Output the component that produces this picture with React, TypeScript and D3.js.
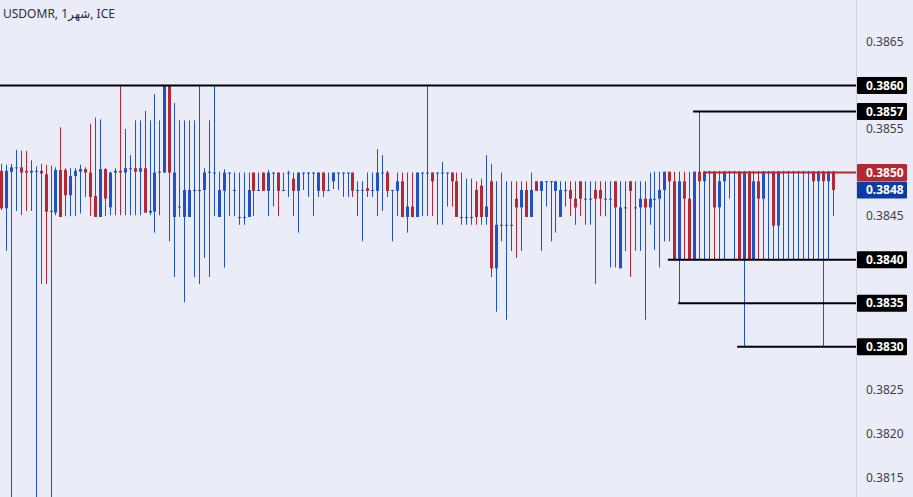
import React from "react";
import * as d3 from "d3";

const highs = [
  0.38510,0.38509,0.38510,0.38526,0.38525,0.38525,0.38514,0.38507,0.38510,0.38509,
  0.38508,0.38506,0.38552,0.38505,0.38505,0.38505,0.38509,0.38506,0.38556,0.38563,
  0.38561,0.38505,0.38501,0.38505,0.38600,0.38550,0.38520,0.38560,0.38560,0.38571,
  0.38560,0.38590,0.38560,0.38600,0.38600,0.38580,0.38560,0.38560,0.38560,0.38560,
  0.38600,0.38505,0.38560,0.38600,0.38501,0.38504,0.38500,0.38500,0.38500,0.38500,
  0.38500,0.38500,0.38500,0.38500,0.38503,0.38500,0.38500,0.38500,0.38502,0.38500,
  0.38500,0.38500,0.38500,0.38500,0.38500,0.38500,0.38500,0.38500,0.38500,0.38500,
  0.38500,0.38500,0.38490,0.38490,0.38500,0.38500,0.38527,0.38520,0.38502,0.38480,
  0.38500,0.38500,0.38500,0.38500,0.38500,0.38500,0.38600,0.38500,0.38500,0.38512,
  0.38500,0.38500,0.38500,0.38500,0.38493,0.38493,0.38490,0.38493,0.38520,0.38510,
  0.38490,0.38500,0.38490,0.38490,0.38490,0.38490,0.38490,0.38500,0.38490,0.38490,
  0.38490,0.38490,0.38490,0.38490,0.38490,0.38490,0.38490,0.38490,0.38490,0.38490,
  0.38490,0.38490,0.38490,0.38490,0.38490,0.38490,0.38490,0.38490,0.38490,0.38490,
  0.38490,0.38500,0.38501,0.38501,0.38501,0.38501,0.38501,0.38501,0.38501,0.38501,
  0.38501,0.38570,0.38502,0.38502,0.38502,0.38502,0.38502,0.38502,0.38502,0.38502,
  0.38502,0.38502,0.38502,0.38502,0.38502,0.38502,0.38502,0.38502,0.38502,0.38502,
  0.38502,0.38502,0.38502,0.38502,0.38502,0.38502,0.38502,0.38502,0.38502,
];

const lows = [
  0.38457,0.38410,0.38100,0.38456,0.38451,0.38456,0.38456,0.38100,0.38372,0.38372,
  0.38100,0.38451,0.38449,0.38450,0.38450,0.38450,0.38453,0.38472,0.38450,0.38449,
  0.38449,0.38450,0.38451,0.38451,0.38451,0.38451,0.38451,0.38451,0.38451,0.38454,
  0.38451,0.38431,0.38451,0.38500,0.38421,0.38380,0.38449,0.38351,0.38449,0.38380,
  0.38372,0.38402,0.38380,0.38450,0.38449,0.38391,0.38450,0.38450,0.38440,0.38440,
  0.38449,0.38450,0.38480,0.38479,0.38450,0.38461,0.38450,0.38480,0.38472,0.38450,
  0.38431,0.38480,0.38472,0.38450,0.38472,0.38472,0.38480,0.38481,0.38480,0.38472,
  0.38472,0.38472,0.38450,0.38421,0.38472,0.38472,0.38450,0.38456,0.38472,0.38421,
  0.38450,0.38449,0.38431,0.38449,0.38449,0.38450,0.38450,0.38450,0.38440,0.38440,
  0.38461,0.38461,0.38449,0.38440,0.38440,0.38440,0.38440,0.38440,0.38440,0.38380,
  0.38340,0.38421,0.38331,0.38410,0.38402,0.38410,0.38449,0.38449,0.38479,0.38410,
  0.38461,0.38421,0.38431,0.38449,0.38461,0.38450,0.38440,0.38450,0.38440,0.38440,
  0.38372,0.38450,0.38450,0.38391,0.38391,0.38390,0.38410,0.38380,0.38410,0.38410,
  0.38331,0.38440,0.38411,0.38391,0.38421,0.38421,0.38400,0.38350,0.38400,0.38400,
  0.38400,0.38400,0.38400,0.38400,0.38400,0.38400,0.38400,0.38470,0.38400,0.38400,
  0.38300,0.38400,0.38400,0.38400,0.38400,0.38400,0.38400,0.38400,0.38400,0.38400,
  0.38400,0.38400,0.38400,0.38400,0.38400,0.38400,0.38300,0.38400,0.38450,
];

const opens = [
  0.38502,0.38459,0.38501,0.38505,0.38506,0.38502,0.38500,0.38501,0.38502,0.38498,
  0.38455,0.38454,0.38503,0.38503,0.38474,0.38496,0.38501,0.38504,0.38500,0.38473,
  0.38449,0.38504,0.38460,0.38500,0.38502,0.38500,0.38504,0.38505,0.38501,0.38505,
  0.38454,0.38455,0.38500,0.38500,0.38600,0.38449,0.38460,0.38449,0.38449,0.38479,
  0.38479,0.38480,0.38500,0.38500,0.38449,0.38479,0.38500,0.38480,0.38449,0.38449,
  0.38449,0.38500,0.38480,0.38500,0.38479,0.38500,0.38500,0.38480,0.38500,0.38493,
  0.38479,0.38500,0.38500,0.38500,0.38479,0.38500,0.38480,0.38490,0.38500,0.38500,
  0.38500,0.38500,0.38480,0.38480,0.38482,0.38480,0.38479,0.38500,0.38500,0.38480,
  0.38479,0.38490,0.38449,0.38461,0.38449,0.38500,0.38500,0.38500,0.38500,0.38500,
  0.38500,0.38500,0.38490,0.38449,0.38449,0.38449,0.38480,0.38485,0.38449,0.38490,
  0.38390,0.38440,0.38440,0.38440,0.38470,0.38460,0.38480,0.38449,0.38490,0.38479,
  0.38490,0.38490,0.38479,0.38449,0.38480,0.38480,0.38470,0.38490,0.38470,0.38470,
  0.38480,0.38480,0.38470,0.38470,0.38490,0.38390,0.38460,0.38490,0.38460,0.38460,
  0.38470,0.38460,0.38470,0.38470,0.38480,0.38501,0.38490,0.38400,0.38490,0.38470,
  0.38400,0.38501,0.38490,0.38501,0.38501,0.38460,0.38490,0.38501,0.38501,0.38501,
  0.38400,0.38501,0.38400,0.38490,0.38470,0.38501,0.38501,0.38439,0.38501,0.38501,
  0.38501,0.38501,0.38501,0.38501,0.38501,0.38490,0.38501,0.38490,0.38501,
];

const closes = [
  0.38459,0.38502,0.38506,0.38506,0.38500,0.38500,0.38502,0.38502,0.38499,0.38455,
  0.38456,0.38503,0.38449,0.38474,0.38496,0.38502,0.38504,0.38500,0.38472,0.38449,
  0.38504,0.38470,0.38500,0.38502,0.38500,0.38505,0.38505,0.38501,0.38505,0.38454,
  0.38456,0.38500,0.38501,0.38600,0.38500,0.38500,0.38461,0.38480,0.38480,0.38480,
  0.38480,0.38500,0.38501,0.38500,0.38480,0.38500,0.38500,0.38480,0.38449,0.38449,
  0.38480,0.38479,0.38480,0.38479,0.38500,0.38500,0.38479,0.38480,0.38500,0.38479,
  0.38500,0.38500,0.38500,0.38500,0.38500,0.38479,0.38480,0.38500,0.38500,0.38500,
  0.38500,0.38479,0.38480,0.38480,0.38479,0.38480,0.38500,0.38500,0.38479,0.38480,
  0.38490,0.38449,0.38461,0.38449,0.38500,0.38500,0.38500,0.38490,0.38500,0.38500,
  0.38500,0.38490,0.38449,0.38449,0.38449,0.38449,0.38449,0.38449,0.38461,0.38390,
  0.38440,0.38440,0.38440,0.38440,0.38460,0.38480,0.38449,0.38480,0.38479,0.38490,
  0.38490,0.38490,0.38490,0.38480,0.38480,0.38470,0.38460,0.38470,0.38470,0.38470,
  0.38470,0.38470,0.38470,0.38470,0.38460,0.38460,0.38460,0.38479,0.38460,0.38470,
  0.38460,0.38470,0.38470,0.38480,0.38501,0.38490,0.38400,0.38490,0.38470,0.38400,
  0.38501,0.38490,0.38501,0.38501,0.38460,0.38490,0.38501,0.38501,0.38501,0.38400,
  0.38501,0.38400,0.38490,0.38470,0.38501,0.38501,0.38439,0.38501,0.38501,0.38501,
  0.38501,0.38501,0.38501,0.38501,0.38490,0.38501,0.38490,0.38501,0.38480,
];

const tickValues = [0.3865, 0.386, 0.3855, 0.385, 0.3845, 0.384, 0.3835, 0.383, 0.3825, 0.382, 0.3815];

const levelPrices = [0.386, 0.3857, 0.385, 0.384, 0.3835, 0.383];
const levelStartIndex = [-2, 139.8, 141.8, 134.7, 136.8, 148.7];
const levelKinds = ["black", "black", "red", "black", "black", "black"];

const lastPrice = 0.3848;
const title = "USDOMR, 1شهر, ICE";

const W = 913;
const H = 497;
const AXIS_X = 856;
const RED = "#b22833";
const BLUE = "#2151c2";
const LABEL_BLUE = "#0d3ba6";
const BG = "#eaedf8";

export default function App() {
  const n = highs.length;
  const x = d3.scaleLinear().domain([0, n - 1]).range([1, 832.7]);
  const y = d3.scaleLinear().domain([0.386, 0.383]).range([85.5, 346.7]);
  const fmt = d3.format(".4f");

  const labels = [
    ...levelPrices.map((p, i) => ({ p, fill: levelKinds[i] === "red" ? RED : "#000000" })),
    { p: lastPrice, fill: LABEL_BLUE },
  ];

  return (
    <svg
      width={W}
      height={H}
      style={{ position: "absolute", left: 0, top: 0, display: "block" }}
      fontFamily="'Noto Sans', 'DejaVu Sans', sans-serif"
    >
      <rect x={0} y={0} width={W} height={H} fill={BG} />
      <defs>
        <clipPath id="plot">
          <rect x={0} y={0} width={AXIS_X} height={H} />
        </clipPath>
      </defs>
      <g clipPath="url(#plot)">
        {highs.map((h, i) => {
          const o = opens[i];
          const c = closes[i];
          const color = c < o ? RED : BLUE;
          const cx = Math.round(x(i));
          const top = y(Math.max(o, c));
          const bot = y(Math.min(o, c));
          const bh = Math.max(1, bot - top);
          return (
            <g key={i}>
              <line x1={cx + 0.5} x2={cx + 0.5} y1={y(h)} y2={y(lows[i])} stroke={color} strokeWidth={1} />
              <rect x={cx - 1} y={top} width={3} height={bh} fill={color} />
            </g>
          );
        })}
        {levelPrices.map((p, i) => (
          <line
            key={"lv" + i}
            x1={x(levelStartIndex[i])}
            x2={AXIS_X}
            y1={y(p)}
            y2={y(p)}
            stroke={levelKinds[i] === "red" ? RED : "#000000"}
            strokeWidth={2}
          />
        ))}
      </g>
      <line x1={AXIS_X + 0.5} x2={AXIS_X + 0.5} y1={0} y2={H} stroke="#cfd3de" strokeWidth={1} />
      {tickValues.map((t) => (
        <text key={"t" + t} x={866} y={y(t)} dy="0.35em" fontSize={12} fill="#3c3f48">
          {fmt(t)}
        </text>
      ))}
      {labels.map((l, i) => (
        <g key={"lb" + i}>
          <rect x={AXIS_X + 1} y={y(l.p) - 8.5} width={50} height={17} fill={l.fill} rx={1} />
          <text x={866} y={y(l.p)} dy="0.35em" fontSize={12} fontWeight="bold" fill="#ffffff">
            {fmt(l.p)}
          </text>
        </g>
      ))}
      <text x={3} y={14} dy="0.35em" fontSize={12} fill="#2a2e39">
        {title}
      </text>
    </svg>
  );
}
